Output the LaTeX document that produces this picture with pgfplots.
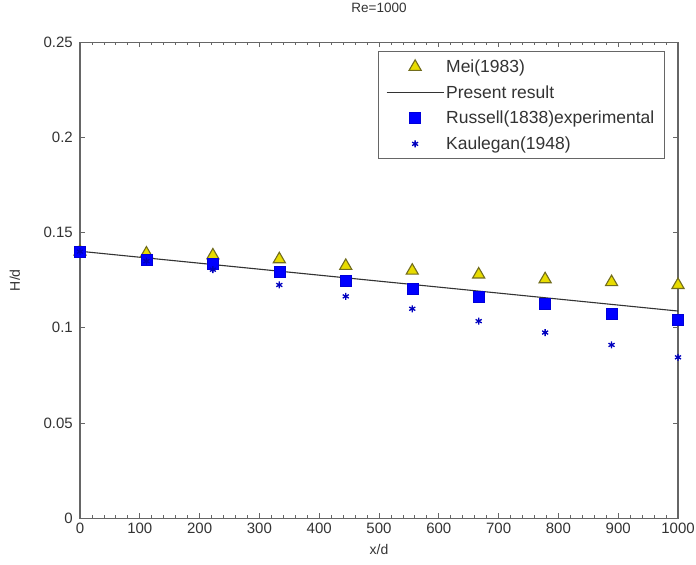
\documentclass[border=0pt]{standalone}
\usepackage{pgfplots}
\pgfplotsset{compat=1.18}
\usepackage{fontspec}
\setmainfont{Liberation Sans}

\begin{document}
\begin{tikzpicture}
\begin{axis}[
    scale only axis,
    width=598pt, height=476pt,
    xmin=0, xmax=1000, ymin=0, ymax=0.25,
    xtick={0,100,...,1000},
    ytick={0,0.05,0.1,0.15,0.2,0.25},
    yticklabels={0,0.05,0.1,0.15,0.2,0.25},
    minor x tick num=4,
    tick align=inside,
    major tick length=5pt, minor tick length=3pt,
    axis line style={black!60, line width=1.3pt},
    every tick/.style={black!60, line width=0.8pt},
    tick label style={font=\fontsize{15}{17}\selectfont, text=black!80, inner sep=0pt},
    xticklabel style={yshift=-5pt},
    yticklabel style={xshift=-7pt},
    /pgf/number format/assume math mode=true,
    /pgf/number format/1000 sep={},
    scaled y ticks=false,
    xlabel={x/d}, ylabel={H/d},
    label style={font=\fontsize{14}{16}\selectfont, text=black!80},
    xlabel style={at={(axis description cs:0.5,-0.065)}, anchor=center},
    ylabel style={at={(axis description cs:-0.109,0.5)}, anchor=center},
    title={Re=1000},
    title style={font=\fontsize{13.5}{16}\selectfont, text=black!80,
        at={(axis description cs:0.5,1.059)}, anchor=center},
    legend style={at={(axis description cs:0.978,0.981)}, anchor=north east,
        draw=black!60, line width=1pt,
        font=\fontsize{17.5}{20}\selectfont, text=black!80,
        row sep=7.5pt, inner xsep=8pt, inner ysep=6pt},
    legend cell align=left,
    legend image code/.code={
        \draw[mark repeat=2, mark phase=2, #1]
            plot coordinates {(0pt,0pt) (28.5pt,0pt) (57pt,0pt)};},
    clip=false,
]
\addplot[only marks, mark=triangle*, mark size=7pt,
    mark options={fill=yellow!80!olive, draw=olive!75!black, line width=1.1pt}]
    coordinates {
    (0,0.140) (111.1,0.139) (222.2,0.138) (333.3,0.136) (444.4,0.1325)
    (555.6,0.130) (666.7,0.128) (777.8,0.1255) (888.9,0.124) (1000,0.1225)};
\addlegendentry{Mei(1983)}
\addplot[black!80, line width=1.1pt, mark=none]
    coordinates {(0,0.1402) (1000,0.1088)};
\addlegendentry{Present result}
\addplot[only marks, mark=square*, mark size=5.5pt,
    mark options={fill=blue, draw=blue!85!black}]
    coordinates {
    (0,0.140) (111.1,0.136) (222.2,0.1335) (333.3,0.1295) (444.4,0.1245)
    (555.6,0.1205) (666.7,0.1165) (777.8,0.1125) (888.9,0.1075) (1000,0.1045)};
\addlegendentry{Russell(1838)experimental}
\addplot[only marks, mark=asterisk, mark size=3.5pt,
    mark options={draw=blue!75!black, line width=1.3pt}]
    coordinates {
    (0,0.140) (111.1,0.135) (222.2,0.1305) (333.3,0.1225) (444.4,0.1165)
    (555.6,0.110) (666.7,0.1035) (777.8,0.0975) (888.9,0.091) (1000,0.0845)};
\addlegendentry{Kaulegan(1948)}
\end{axis}
\path (current axis.south west) ++(-80pt,-46pt);
\path (current axis.north east) ++(18pt,41pt);
\end{tikzpicture}
\end{document}
